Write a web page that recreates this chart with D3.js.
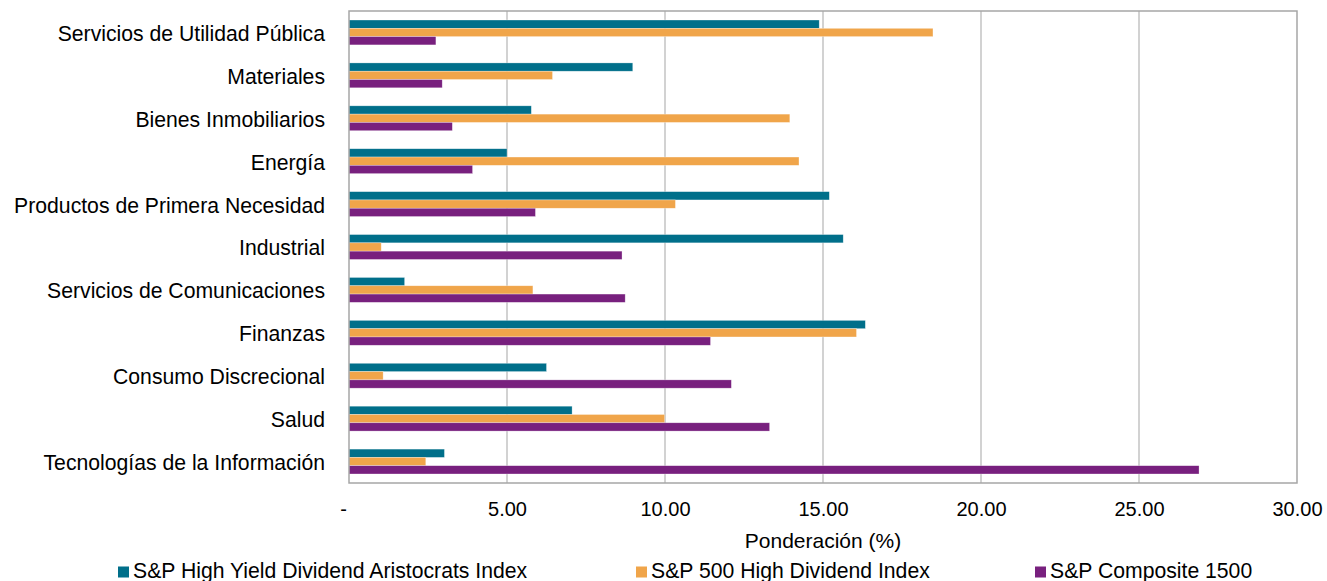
<!DOCTYPE html>
<html><head><meta charset="utf-8">
<script src="https://cdn.jsdelivr.net/npm/d3@7"></script>
<style>body{margin:0;background:#fff;}svg{display:block;font-family:"Liberation Sans",Arial,sans-serif;}</style>
</head><body><svg id="c" width="1327" height="581"></svg>
<script>
const categories = ["Servicios de Utilidad Pública","Materiales","Bienes Inmobiliarios","Energía","Productos de Primera Necesidad","Industrial","Servicios de Comunicaciones","Finanzas","Consumo Discrecional","Salud","Tecnologías de la Información"];
const seriesNames = ["S&P High Yield Dividend Aristocrats Index","S&P 500 High Dividend Index","S&P Composite 1500"];
const aristocrats = [14.88,8.98,5.77,5.00,15.20,15.64,1.76,16.34,6.25,7.06,3.02];
const highDiv500 = [18.48,6.44,13.95,14.24,10.33,1.02,5.82,16.06,1.08,9.99,2.43];
const composite1500 = [2.75,2.95,3.27,3.91,5.90,8.64,8.74,11.44,12.10,13.31,26.90];
const xTicks = [0,5,10,15,20,25,30];
const colors = ["#006f8a","#f0a54a","#78207e"];
const series = [aristocrats, highDiv500, composite1500];

const svg = d3.select("#c");
const L = 349, R = 1297, T = 11, B = 483;
const x = d3.scaleLinear().domain([0,30]).range([L,R]);
const y = d3.scaleBand().domain(categories).range([T,B]).paddingInner(0.42).paddingOuter(0.21);
const ySub = d3.scaleBand().domain([0,1,2]).range([0,y.bandwidth()]);

// grid
svg.append("g").selectAll("line").data(xTicks.slice(1,-1)).join("line")
  .attr("x1",d=>x(d)).attr("x2",d=>x(d)).attr("y1",T).attr("y2",B)
  .attr("stroke","#b4b4b4").attr("stroke-width",1.2);

// bars
const g = svg.append("g");
series.forEach((vals,si)=>{
  g.selectAll(null).data(vals).join("rect")
   .attr("x",x(0)).attr("y",(d,i)=>y(categories[i])+ySub(si))
   .attr("width",d=>x(d)-x(0)).attr("height",ySub.bandwidth())
   .attr("fill",colors[si]).attr("stroke","#fff").attr("stroke-opacity",0.5).attr("stroke-width",0.6);
});

// frame
svg.append("rect").attr("x",L).attr("y",T).attr("width",R-L).attr("height",B-T)
  .attr("fill","none").attr("stroke","#a6a6a6").attr("stroke-width",1.5);

// x axis
const xa = svg.append("g").attr("transform",`translate(0,${B})`)
  .call(d3.axisBottom(x).tickValues(xTicks).tickSize(0).tickPadding(19)
    .tickFormat(d=>d===0?"-":d3.format(".2f")(d)));
xa.select(".domain").remove();
xa.selectAll("text").attr("font-size",20).attr("fill","#000").attr("font-family","Liberation Sans, Arial, sans-serif");
xa.selectAll("text").filter(d=>d===0).attr("dx",-6);

// y axis labels
const ya = svg.append("g").attr("transform",`translate(${L},0)`)
  .call(d3.axisLeft(y).tickSize(0).tickPadding(24));
ya.select(".domain").remove();
ya.selectAll("text").attr("font-size",21.2).attr("dy","0.4em").attr("fill","#000").attr("font-family","Liberation Sans, Arial, sans-serif");

// axis title
svg.append("text").attr("x",(L+R)/2).attr("y",548).attr("text-anchor","middle")
  .attr("font-size",21).text("Ponderación (%)");

// legend
const legX = [118,636,1035];
const lg = svg.append("g");
seriesNames.forEach((n,i)=>{
  lg.append("rect").attr("x",legX[i]).attr("y",566.5).attr("width",11).attr("height",11).attr("fill",colors[i]);
  lg.append("text").attr("x",legX[i]+15).attr("y",578).attr("font-size",21.2).text(n);
});
</script></body></html>
